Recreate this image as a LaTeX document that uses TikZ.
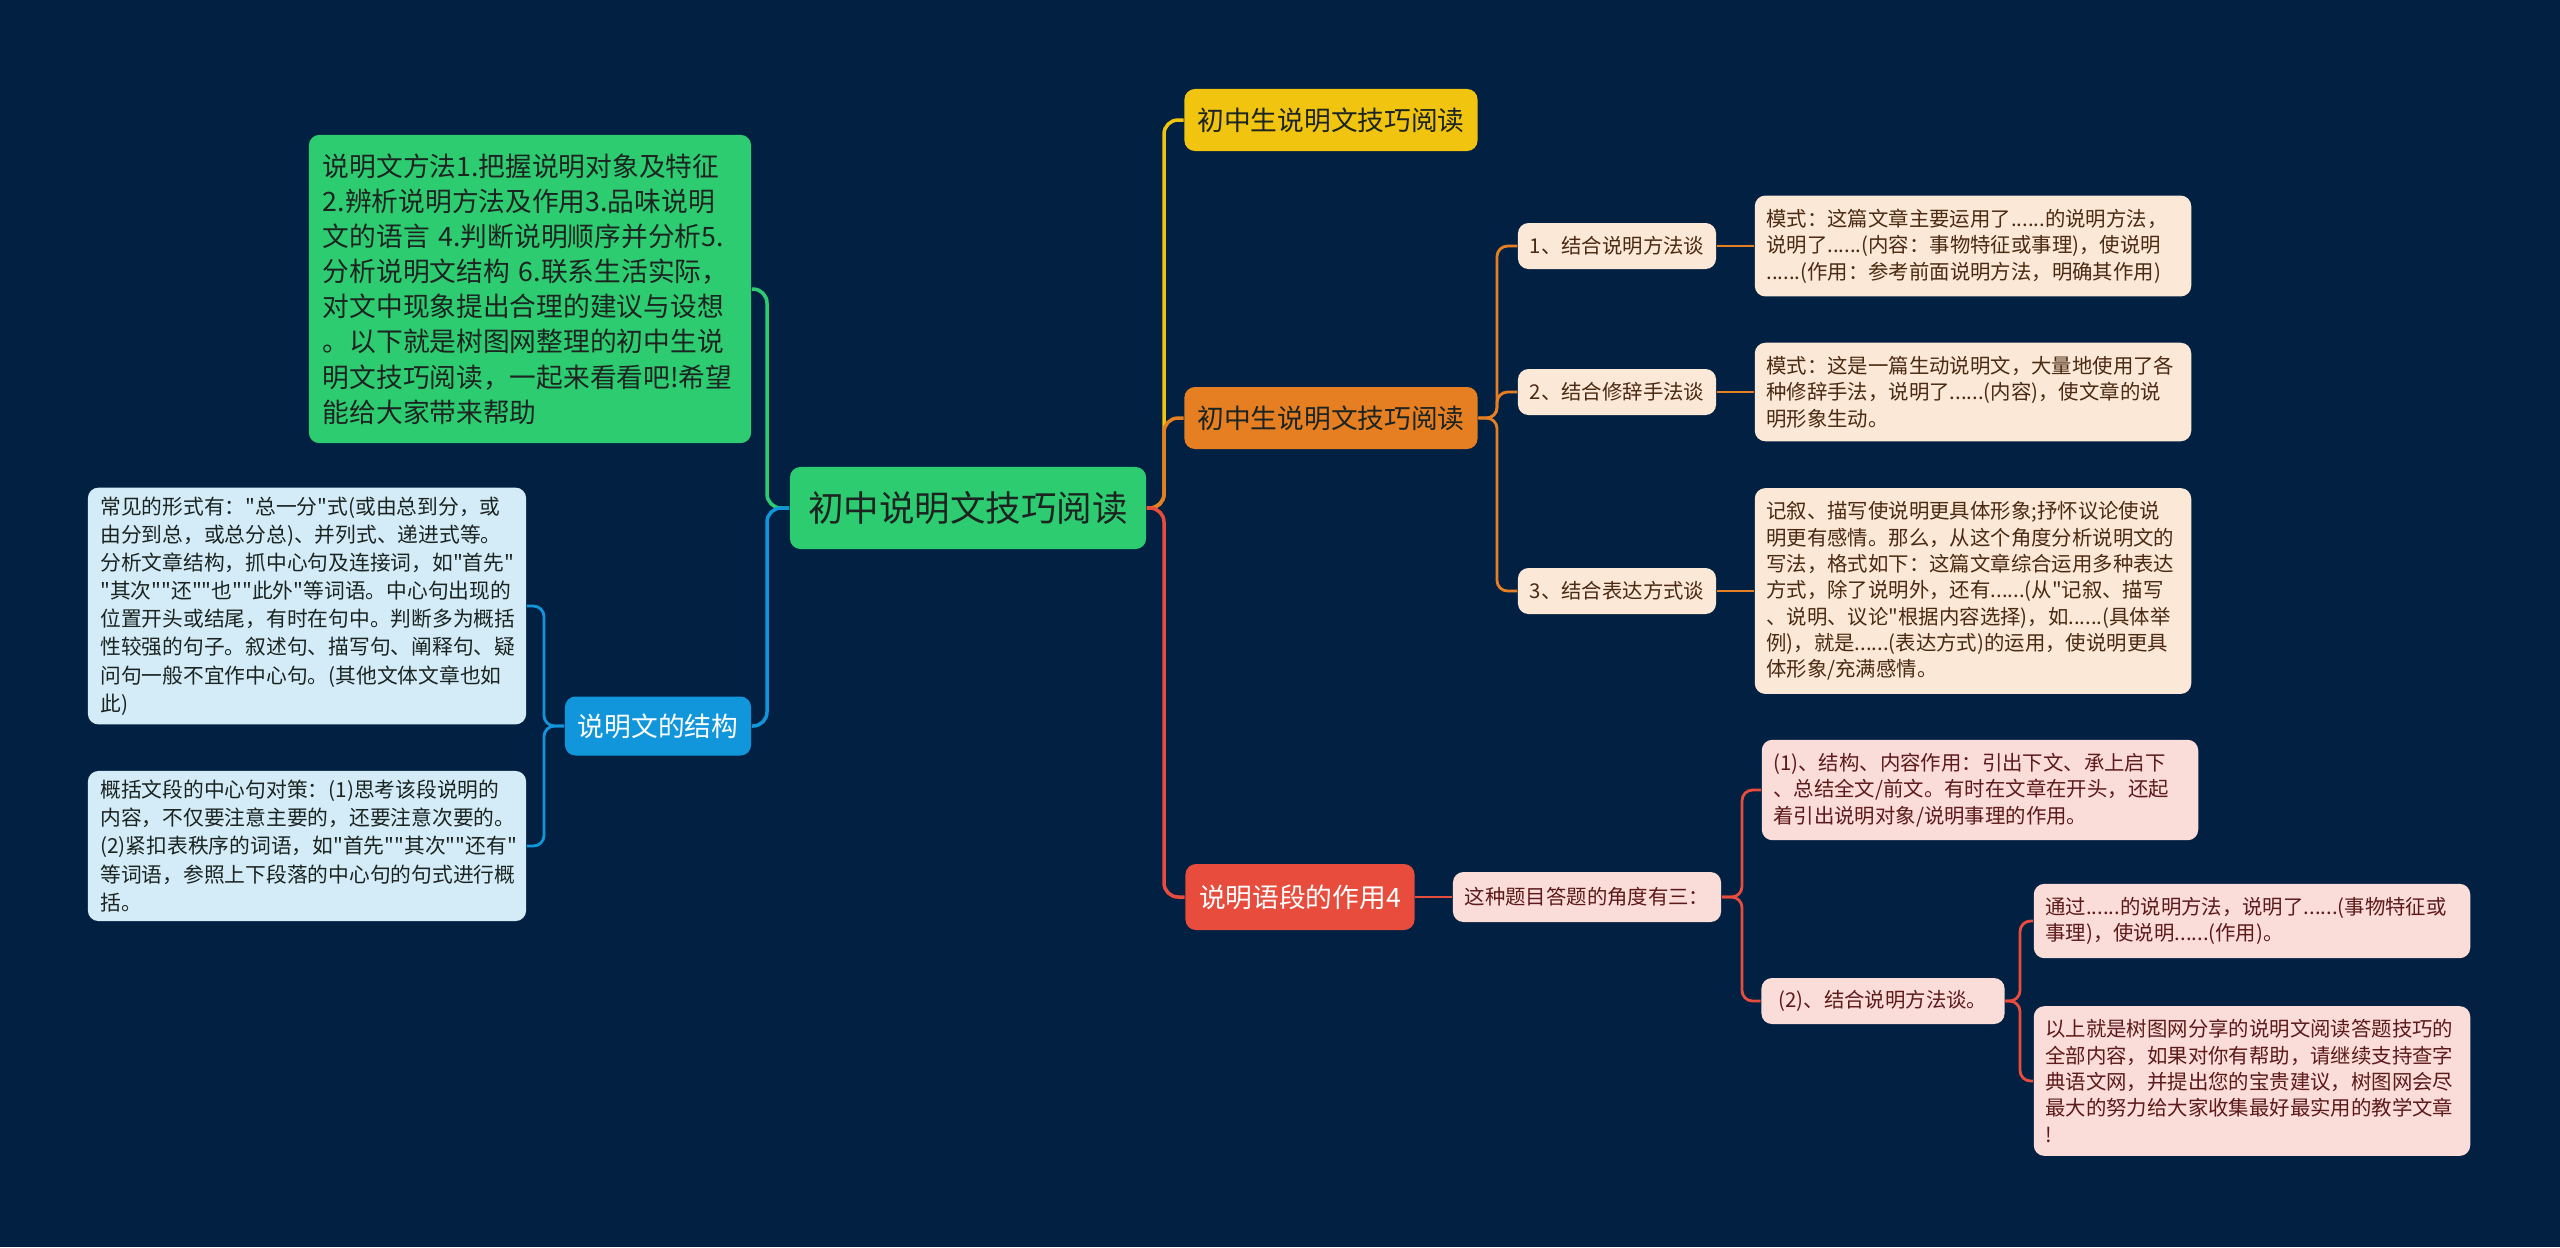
\documentclass[tikz,border=0pt]{standalone}
\usepackage{fontspec}
\setmainfont{Noto Sans CJK SC}[Ligatures=TeXOff]
\definecolor{bgblue}{HTML}{022041}
\definecolor{mapgreen}{HTML}{2ECC71}
\definecolor{mapblue}{HTML}{1296DB}
\definecolor{mapsky}{HTML}{D3ECF8}
\definecolor{mapyellow}{HTML}{F1C40F}
\definecolor{maporange}{HTML}{E67E22}
\definecolor{mapred}{HTML}{E74C3C}
\definecolor{mappeach}{HTML}{FBE8D6}
\definecolor{mappink}{HTML}{FADCD9}
\definecolor{darktext}{HTML}{1C2421}
\definecolor{browntext}{HTML}{4A2A12}
\definecolor{winetext}{HTML}{5C1A1A}

\begin{document}
\begin{tikzpicture}[x=0.01cm, y=-0.01cm,
    every node/.style = {shape=rectangle, rounded corners=3pt, align=left, inner sep=0pt},
    rootbox/.style = {fill=mapgreen, text=darktext, minimum width=3.56cm, minimum height=0.82cm,
          font=\fontsize{10.1}{12}\selectfont},
    topicbox/.style = {minimum height=0.62cm, font=\fontsize{7.6}{9}\selectfont},
    notebox/.style = {inner xsep=0.14cm, inner ysep=5.3pt, text width=4.14cm,
          font=\fontsize{7.6}{10}\selectfont},
    subbox/.style = {minimum height=0.46cm, font=\fontsize{5.8}{7}\selectfont},
    textbox/.style = {inner xsep=0.116cm, inner ysep=3.8pt, text width=4.13cm,
          font=\fontsize{5.8}{7.5}\selectfont},
    skybox/.style = {fill=mapsky, text=darktext, inner xsep=0.125cm, inner ysep=2.6pt,
          text width=4.13cm, font=\fontsize{5.9}{8}\selectfont},
    link/.style = {line width=1pt, rounded corners=4pt},
    sublink/.style = {line width=0.8pt, rounded corners=3pt}]

  \fill[bgblue] (0,0) rectangle (2560,1247);
  \useasboundingbox (0,0) rectangle (2560,1247);

  % centre
  \node[rootbox] (root) at (968,508) {初中说明文技巧阅读};

  % left side
  \node[notebox, fill=mapgreen, text=darktext] (method) at (530,289) {说明文方法1.把握说明对象及特征\\2.辨析说明方法及作用3.品味说明\\文的语言 4.判断说明顺序并分析5.\\分析说明文结构 6.联系生活实际，\\对文中现象提出合理的建议与设想\\。以下就是树图网整理的初中生说\\明文技巧阅读，一起来看看吧!希望\\能给大家带来帮助};
  \node[topicbox, fill=mapblue, text=white, minimum width=1.86cm, minimum height=0.59cm] (struct) at (658,726) {说明文的结构};
  \node[skybox] (form) at (307,606) {常见的形式有："总一分"式(或由总到分，或\\由分到总，或总分总)、并列式、递进式等。\\分析文章结构，抓中心句及连接词，如"首先"\\"其次""还""也""此外"等词语。中心句出现的\\位置开头或结尾，有时在句中。判断多为概括\\性较强的句子。叙述句、描写句、阐释句、疑\\问句一般不宜作中心句。(其他文体文章也如\\此)};
  \node[skybox] (centre) at (307,846) {概括文段的中心句对策：(1)思考该段说明的\\内容，不仅要注意主要的，还要注意次要的。\\(2)紧扣表秩序的词语，如"首先""其次""还有"\\等词语，参照上下段落的中心句的句式进行概\\括。};

  % right side
  \node[topicbox, fill=mapyellow, text=darktext, minimum width=2.93cm] (skillA) at (1331,120) {初中生说明文技巧阅读};
  \node[topicbox, fill=maporange, text=darktext, minimum width=2.93cm] (skillB) at (1331,418) {初中生说明文技巧阅读};
  \node[topicbox, fill=mapred, text=white, minimum width=2.29cm, minimum height=0.66cm] (role) at (1300,897) {说明语段的作用4};

  \node[subbox, fill=mappeach, text=browntext, minimum width=1.98cm] (wayA) at (1617,246) {1、结合说明方法谈};
  \node[subbox, fill=mappeach, text=browntext, minimum width=1.98cm] (wayB) at (1617,392) {2、结合修辞手法谈};
  \node[subbox, fill=mappeach, text=browntext, minimum width=1.98cm] (wayC) at (1617,591) {3、结合表达方式谈};

  \node[textbox, fill=mappeach, text=browntext] (noteA) at (1973,246) {模式：这篇文章主要运用了......的说明方法，\\说明了......(内容：事物特征或事理)，使说明\\......(作用：参考前面说明方法，明确其作用)};
  \node[textbox, fill=mappeach, text=browntext] (noteB) at (1973,392) {模式：这是一篇生动说明文，大量地使用了各\\种修辞手法，说明了......(内容)，使文章的说\\明形象生动。};
  \node[textbox, fill=mappeach, text=browntext] (noteC) at (1973,591) {记叙、描写使说明更具体形象;抒怀议论使说\\明更有感情。那么，从这个角度分析说明文的\\写法，格式如下：这篇文章综合运用多种表达\\方式，除了说明外，还有......(从"记叙、描写\\、说明、议论"根据内容选择)，如......(具体举\\例)，就是......(表达方式)的运用，使说明更具\\体形象/充满感情。};

  \node[subbox, fill=mappink, text=winetext, minimum width=2.68cm, minimum height=0.50cm] (angle) at (1587,897) {这种题目答题的角度有三：};
  \node[textbox, fill=mappink, text=winetext] (partA) at (1980,790) {(1)、结构、内容作用：引出下文、承上启下\\、总结全文/前文。有时在文章在开头，还起\\着引出说明对象/说明事理的作用。};
  \node[subbox, fill=mappink, text=winetext, minimum width=2.43cm] (partB) at (1883,1001) {(2)、结合说明方法谈。};
  \node[textbox, fill=mappink, text=winetext] (howA) at (2252,921) {通过......的说明方法，说明了......(事物特征或\\事理)，使说明......(作用)。};
  \node[textbox, fill=mappink, text=winetext] (howB) at (2252,1081) {以上就是树图网分享的说明文阅读答题技巧的\\全部内容，如果对你有帮助，请继续支持查字\\典语文网，并提出您的宝贵建议，树图网会尽\\最大的努力给大家收集最好最实用的教学文章\\!};

  % connectors
  \coordinate (lbus) at (767,508);
  \coordinate (rbus) at (1164,508);
  \coordinate (sbus) at (544,726);
  \coordinate (obus) at (1497,418);
  \coordinate (pbus) at (1742,897);
  \coordinate (qbus) at (2020,1001);

  \draw[link, mapgreen] (root.west) -- (lbus) |- (method.east);
  \draw[link, mapblue] (root.west) -- (lbus) |- (struct.east);
  \draw[sublink, mapblue] (struct.west) -- (sbus) |- (form.east);
  \draw[sublink, mapblue] (struct.west) -- (sbus) |- (centre.east);

  \draw[link, mapyellow] (root.east) -- (rbus) |- (skillA.west);
  \draw[link, maporange] (root.east) -- (rbus) |- (skillB.west);
  \draw[link, mapred] (root.east) -- (rbus) |- (role.west);

  \draw[sublink, maporange] (skillB.east) -- (obus) |- (wayA.west);
  \draw[sublink, maporange] (skillB.east) -- (obus) |- (wayB.west);
  \draw[sublink, maporange] (skillB.east) -- (obus) |- (wayC.west);
  \draw[sublink, maporange] (wayA.east) -- (noteA.west);
  \draw[sublink, maporange] (wayB.east) -- (noteB.west);
  \draw[sublink, maporange] (wayC.east) -- (noteC.west);

  \draw[sublink, mapred] (role.east) -- (angle.west);
  \draw[sublink, mapred] (angle.east) -- (pbus) |- (partA.west);
  \draw[sublink, mapred] (angle.east) -- (pbus) |- (partB.west);
  \draw[sublink, mapred] (partB.east) -- (qbus) |- (howA.west);
  \draw[sublink, mapred] (partB.east) -- (qbus) |- (howB.west);
\end{tikzpicture}
\end{document}
